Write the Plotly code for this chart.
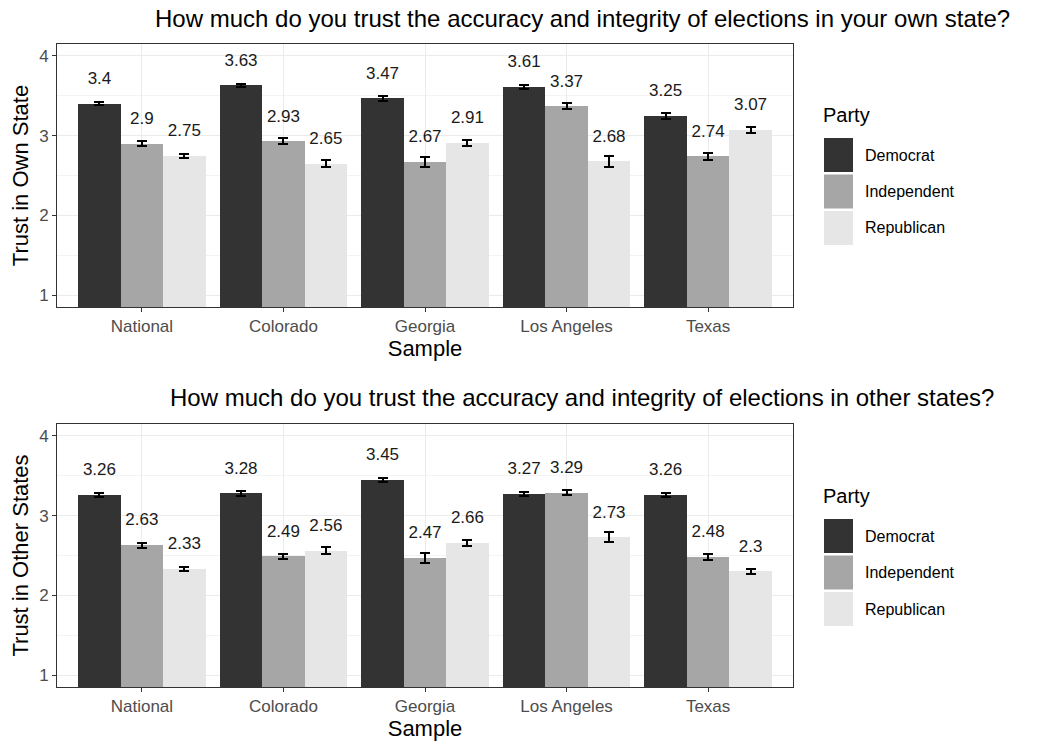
import plotly.graph_objects as go

samples = ["National", "Colorado", "Georgia", "Los Angeles", "Texas"]
parties = ["Democrat", "Independent", "Republican"]

own_dem = [3.40, 3.63, 3.47, 3.61, 3.25]
own_ind = [2.90, 2.93, 2.67, 3.37, 2.74]
own_rep = [2.75, 2.65, 2.91, 2.68, 3.07]
own_dem_se = [0.02, 0.02, 0.03, 0.025, 0.035]
own_ind_se = [0.03, 0.035, 0.06, 0.035, 0.04]
own_rep_se = [0.025, 0.04, 0.035, 0.07, 0.035]

oth_dem = [3.26, 3.28, 3.45, 3.27, 3.26]
oth_ind = [2.63, 2.49, 2.47, 3.29, 2.48]
oth_rep = [2.33, 2.56, 2.66, 2.73, 2.30]
oth_dem_se = [0.02, 0.03, 0.025, 0.025, 0.025]
oth_ind_se = [0.03, 0.035, 0.06, 0.035, 0.035]
oth_rep_se = [0.02, 0.045, 0.035, 0.06, 0.03]

label_own = ["3.4", "3.63", "3.47", "3.61", "3.25"]
label_own_i = ["2.9", "2.93", "2.67", "3.37", "2.74"]
label_own_r = ["2.75", "2.65", "2.91", "2.68", "3.07"]
label_oth = ["3.26", "3.28", "3.45", "3.27", "3.26"]
label_oth_i = ["2.63", "2.49", "2.47", "3.29", "2.48"]
label_oth_r = ["2.33", "2.56", "2.66", "2.73", "2.3"]

titles = ["How much do you trust the accuracy and integrity of elections in your own state?",
          "How much do you trust the accuracy and integrity of elections in other states?"]
ytitles = ["Trust in Own State", "Trust in Other States"]
y_ticks = [1, 2, 3, 4]

colors = ["#333333", "#A6A6A6", "#E6E6E6"]
offsets = [-0.3, 0.0, 0.3]
FONT = "Liberation Sans, Arial, sans-serif"

W, H = 1046, 745
ml, mr, mt, mb = 57, 253, 44, 58
ph = H - mt - mb
pw = W - ml - mr
top_dom = [(H - mb - 307) / ph, 1.0]
bot_dom = [0.0, (H - mb - 424) / ph]

fig = go.Figure()

panels = [
    ((own_dem, own_ind, own_rep), (own_dem_se, own_ind_se, own_rep_se),
     (label_own, label_own_i, label_own_r), "x", "y"),
    ((oth_dem, oth_ind, oth_rep), (oth_dem_se, oth_ind_se, oth_rep_se),
     (label_oth, label_oth_i, label_oth_r), "x2", "y2"),
]

xpos = list(range(1, len(samples) + 1))
for vals, ses, labs, xa, ya in panels:
    for k in range(3):
        xs = [p + offsets[k] for p in xpos]
        fig.add_trace(go.Bar(
            x=xs, y=vals[k], base=0, width=0.3, xaxis=xa, yaxis=ya,
            marker=dict(color=colors[k], line=dict(width=0)),
            error_y=dict(type="data", array=ses[k], visible=True,
                         color="black", thickness=2, width=5),
            showlegend=False, name=parties[k], hoverinfo="skip"))
        fig.add_trace(go.Scatter(
            x=xs, y=[v + 0.3 for v in vals[k]], text=labs[k], mode="text",
            textfont=dict(family=FONT, size=17, color="#1A1A1A"),
            textposition="middle center", xaxis=xa, yaxis=ya,
            showlegend=False, hoverinfo="skip", cliponaxis=False))

axis_common = dict(
    showline=True, linecolor="#333333", linewidth=1, mirror=True,
    gridcolor="#EBEBEB", gridwidth=1.2, zeroline=False, automargin=False,
    ticks="outside", ticklen=4, tickcolor="#333333", tickwidth=1,
    tickfont=dict(family=FONT, size=17, color="#4D4D4D"),
)

for i, (xa, ya, dom) in enumerate([("xaxis", "yaxis", top_dom), ("xaxis2", "yaxis2", bot_dom)]):
    fig.layout[xa] = dict(
        axis_common, domain=[0, 1], range=[0.4, 5.6],
        tickvals=xpos, ticktext=samples,
        anchor="y" if i == 0 else "y2",
        title=dict(text="Sample", font=dict(family=FONT, size=22, color="black"), standoff=2),
    )
    fig.layout[ya] = dict(
        axis_common, domain=dom, range=[0.85, 4.15],
        tickvals=y_ticks, ticktext=[str(t) for t in y_ticks],
        anchor="x" if i == 0 else "x2",
        minor=dict(dtick=0.5, showgrid=True, gridcolor="#F3F3F3", gridwidth=0.6, ticks=""),
        title=dict(text=ytitles[i], font=dict(family=FONT, size=22, color="black"), standoff=4),
    )

annotations = []
shapes = []
for title, ypx in [(titles[0], 18), (titles[1], 397)]:
    annotations.append(dict(
        text=title, xref="paper", yref="paper",
        x=(582 - ml) / pw, y=(H - mb - ypx) / ph,
        xanchor="center", yanchor="middle", showarrow=False,
        font=dict(family=FONT, size=24, color="black")))

for top_px in [115, 496]:
    annotations.append(dict(
        text="Party", xref="paper", yref="paper",
        x=(821 - ml) / pw, y=(H - mb - top_px) / ph,
        xanchor="left", yanchor="middle", showarrow=False,
        font=dict(family=FONT, size=20, color="black")))
    for k in range(3):
        y0 = top_px + 23 + k * 36.5
        shapes.append(dict(
            type="rect", xref="paper", yref="paper",
            x0=(824 - ml) / pw, x1=(853 - ml) / pw,
            y0=(H - mb - y0) / ph, y1=(H - mb - (y0 + 34)) / ph,
            fillcolor=colors[k], line=dict(width=0)))
        annotations.append(dict(
            text=parties[k], xref="paper", yref="paper",
            x=(863 - ml) / pw, y=(H - mb - (y0 + 17)) / ph,
            xanchor="left", yanchor="middle", showarrow=False,
            font=dict(family=FONT, size=16, color="black")))

fig.update_layout(
    width=W, height=H,
    margin=dict(l=ml, r=mr, t=mt, b=mb),
    plot_bgcolor="white", paper_bgcolor="white",
    annotations=annotations, shapes=shapes,
    showlegend=False, bargap=0, hovermode=False,
    font=dict(family=FONT),
)

fig.write_html("out.html", config={"displayModeBar": False},
               post_script="document.body.style.margin='0px';")
